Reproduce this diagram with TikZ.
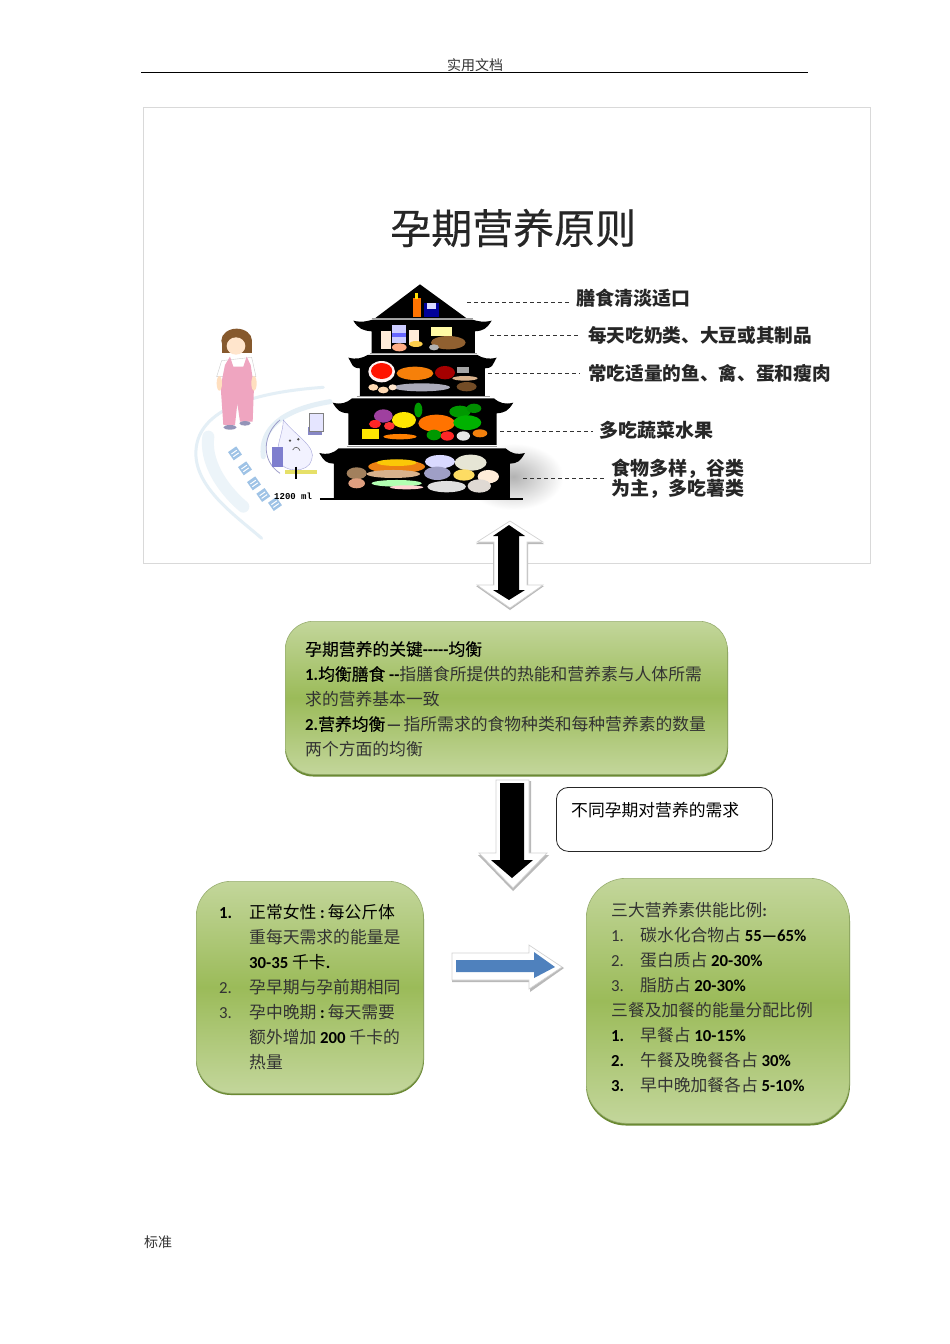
\documentclass[tikz,border=0pt]{standalone}
\usepackage{fontspec}
\setmainfont{Noto Sans CJK SC}
\newfontfamily\calfont{Carlito}
\newfontfamily\monofnt{Liberation Mono}
\newfontfamily\semi[FakeBold=0.35]{Noto Sans CJK SC}
\usetikzlibrary{shapes.geometric}
\definecolor{gLight}{HTML}{C3D69B}
\definecolor{gMid}{HTML}{9BBB59}
\definecolor{gEdge}{HTML}{6B8A33}
\definecolor{txtGrey}{HTML}{333333}
\definecolor{frameGrey}{HTML}{D9D9D9}
\definecolor{arrBlue}{HTML}{4F81BD}
\definecolor{paleSwoosh}{HTML}{E4EFF6}
\definecolor{overall}{HTML}{EFA5C0}
\definecolor{glyphBlue}{HTML}{9FC3E6}
\newcommand\lat[1]{{\calfont\bfseries #1}}
\newcommand\sz[1]{\fontsize{#1}{#1}\selectfont}
\newcommand\szl[2]{\fontsize{#1}{#2}\selectfont}
\newcommand\blob[5]{\fill[#1] (#2,#3) ellipse ({#4} and {#5});}
% tips x, x; body x, x; tip y; body bottom; flat top y
\newcommand\storey[7]{%
  \fill[black] (#1,#5) .. controls (#1+25,#5+6) and (#1+40,#5+2) .. (#1+58,#7) -- (#2-58,#7)
    .. controls (#2-40,#5+2) and (#2-25,#5+6) .. (#2,#5)
    .. controls (#2-15,#5+25) and (#4+25,#5+30) .. (#4,#5+32) -- (#4,#6) -- (#3,#6) -- (#3,#5+32)
    .. controls (#3-25,#5+30) and (#1+15,#5+25) .. (#1,#5) -- cycle;}
\tikzset{
  gbox/.style={anchor=north west,inner sep=0pt,rounded corners=#1,draw=gEdge!70,line width=.6pt,
    top color=gLight,bottom color=gLight,middle color=gMid},
  gshadow/.style={fill=gEdge,rounded corners=#1},
  boxtext/.style={anchor=north west,inner sep=0pt,align=left,text=txtGrey,
    font=\szl{16.8}{25}},
  lbl/.style={anchor=west,inner sep=0pt,font=\sz{19}\bfseries,text=black!85},
  leader/.style={black!80,line width=.7pt,dash pattern=on 4pt off 3pt},
  arrowback/.style={fill=white,draw=gray!35,line width=.7pt},
  arrowedge/.style={fill=gray!55},
}
\begin{document}
\begin{tikzpicture}[x=1pt,y=-1pt]
\path[use as bounding box,fill=white] (0,0) rectangle (950,1344);

% page furniture
\draw[black,line width=.8pt] (141,72.5) -- (808,72.5);
\node[inner sep=0pt,text=txtGrey,font=\sz{14}] (hdr) at (475,65) {实用文档};
\node[inner sep=0pt,anchor=west,text=txtGrey,font=\sz{14}] (ftr) at (144,1242) {标准};

% picture frame
\draw[frameGrey,line width=.8pt] (143,107) rectangle (870.5,563);
\node[inner sep=0pt,anchor=west,text=black!85,font=\sz{41}\semi] (title) at (390,228) {孕期营养原则};

% illustration, in the coordinates of a 3x crop
\begin{scope}[shift={(180,270)},scale=0.3333]
  % soft shadow at the right of the pyramid
  \shade[inner color=gray!60,outer color=white] (1000,620) ellipse (150 and 100);
  % swoosh
  \draw[paleSwoosh,line width=3pt,line cap=round] (430,352) .. controls (170,370) and (40,440) .. (48,560) .. controls (55,660) and (170,740) .. (245,805);
  \draw[paleSwoosh,line width=5pt,line cap=round] (450,395) .. controls (300,420) and (240,480) .. (250,560);
  \draw[paleSwoosh!70,line width=12pt,line cap=round] (85,500) .. controls (75,570) and (120,650) .. (190,710);
  % woman
  \blob{brown!70!black}{170}{212}{46}{36}
  \fill[brown!70!black] (125,212) rectangle (215,250);
  \blob{orange!20}{168}{228}{28}{26}
  \fill[white,draw=gray!40] (125,272) -- (215,262) -- (228,320) -- (110,320) -- cycle;
  \fill[overall] (135,285) -- (150,260) -- (160,290) -- (190,290) -- (200,260) -- (212,285) -- (222,350) -- (218,455) -- (180,455) -- (172,400) -- (165,465) -- (130,465) -- (122,350) -- cycle;
  \blob{orange!25}{118}{340}{8}{22}
  \blob{orange!25}{222}{340}{8}{22}
  \blob{blue!20!gray!70}{150}{472}{20}{7}
  \blob{blue!20!gray!70}{195}{460}{17}{7}
  % water drop
  \draw[blue!30!gray!60,line width=.8pt] (300,450) .. controls (250,490) and (240,570) .. (300,610);
  \fill[blue!5,draw=blue!40!gray!50] (310,450) .. controls (350,500) and (410,530) .. (395,570) .. controls (385,610) and (310,610) .. (295,570) .. controls (285,530) and (310,490) .. (310,450) -- cycle;
  \fill[blue!45!gray!70] (275,530) rectangle (310,590);
  \fill[blue!35!gray!70] (385,470) rectangle (425,495);
  \fill[blue!10,draw=gray] (388,430) rectangle (430,485);
  \blob{black!70}{330}{512}{4}{4}
  \blob{black!70}{355}{508}{4}{4}
  \draw[black!60,line width=.7pt] (338,540) .. controls (345,528) and (355,530) .. (360,542);
  \fill[yellow!60!olive!55] (315,600) rectangle (410,612);
  \draw[black,line width=1.2pt] (348,590) -- (348,628);
  % blue characters along the swoosh
  \foreach \px/\py in {165/550,195/595,222/640,250/675,285/702}{
    \fill[glyphBlue,rotate around={35:(\px,\py)}] (\px-15,\py-15) rectangle (\px+15,\py+15);
    \fill[white,rotate around={35:(\px,\py)}] (\px-10,\py-6) rectangle (\px+10,\py-3);
    \fill[white,rotate around={35:(\px,\py)}] (\px-10,\py+4) rectangle (\px+10,\py+7);
  }
  % pyramid
  \fill[black] (720,43) -- (860,145) -- (585,145) -- cycle;
  \storey{520}{935}{575}{885}{152}{250}{149}
  \storey{505}{950}{540}{915}{263}{378}{255}
  \storey{458}{1000}{505}{950}{398}{525}{385}
  \storey{418}{1035}{462}{990}{549}{685}{535}
  \draw[gray!75,line width=1pt] (575,147) -- (880,147);
  \draw[gray!75,line width=1pt] (570,252) -- (890,252);
  \draw[gray!75,line width=1pt] (530,381) -- (930,381);
  \draw[gray!75,line width=1pt] (500,530) -- (950,530);
  \draw[black,line width=2pt] (420,688) -- (1030,688);
  % top
  \fill[orange!90!red] (698,85) rectangle (722,140);
  \fill[yellow!80!orange] (705,68) rectangle (715,88);
  \fill[blue!60!black] (732,98) rectangle (776,140);
  \fill[white!85!blue] (740,100) rectangle (768,118);
  % dairy
  \fill[white!85!orange] (602,183) rectangle (634,238);
  \fill[white!80!blue] (637,165) rectangle (678,220);
  \fill[blue!60] (637,188) rectangle (678,202);
  \blob{pink!70!orange}{658}{232}{22}{12}
  \fill[white!85!orange] (688,180) rectangle (716,225);
  \blob{yellow!50!orange!70}{708}{222}{20}{9}
  \fill[yellow!35!white] (752,170) rectangle (815,198);
  \blob{brown!75!black}{805}{218}{52}{20}
  \blob{gray!60}{762}{232}{15}{9}
  % meat, fish, eggs
  \blob{white!80!pink}{605}{305}{40}{32}
  \blob{red!85!orange}{605}{303}{32}{24}
  \blob{orange!85!brown}{705}{310}{55}{20}
  \blob{red!65!black}{795}{308}{30}{20}
  \fill[gray!70] (832,290) rectangle (868,308);
  \blob{blue!10!gray!60}{725}{352}{85}{12}
  \blob{orange!30!white}{580}{352}{15}{10}
  \blob{orange!30!white}{610}{360}{16}{10}
  \blob{orange!20!white}{638}{352}{12}{9}
  \blob{brown!60}{855}{325}{38}{7}
  \blob{brown!60!black}{860}{350}{30}{14}
  % fruit and vegetables
  \blob{violet!75}{610}{438}{28}{20}
  \blob{yellow!90!orange}{672}{450}{36}{24}
  \blob{red!85}{585}{462}{18}{12}
  \blob{red!80}{628}{468}{16}{12}
  \fill[yellow!90!orange] (545,478) rectangle (598,507);
  \blob{orange}{660}{500}{50}{8}
  \blob{orange!90!red}{770}{460}{55}{26}
  \blob{green!60!black}{840}{425}{32}{18}
  \blob{green!55!black}{882}{415}{22}{14}
  \blob{green!70!black}{862}{458}{42}{22}
  \blob{green!60!black}{762}{495}{22}{16}
  \blob{red!85}{802}{498}{20}{14}
  \blob{white!80!gray}{850}{498}{20}{14}
  \blob{orange!80!brown}{900}{490}{22}{12}
  \blob{green!60!black}{715}{420}{12}{22}
  % grains and staples
  \blob{brown!55!gray}{530}{610}{30}{18}
  \blob{pink!50!brown}{530}{640}{25}{15}
  \blob{orange!70!brown}{650}{590}{85}{20}
  \blob{yellow!60!orange}{650}{578}{60}{10}
  \blob{brown!60}{640}{612}{80}{12}
  \blob{green!30!white}{650}{640}{75}{10}
  \blob{pink!70!white}{680}{652}{50}{6}
  \blob{white!85!blue}{780}{575}{45}{20}
  \blob{blue!25!gray!60}{772}{610}{40}{20}
  \blob{white!75!gray}{800}{650}{58}{17}
  \blob{yellow!25!gray!30}{872}{578}{48}{24}
  \blob{yellow!60!orange!60}{852}{615}{32}{17}
  \blob{orange!15!white}{925}{620}{32}{20}
  \blob{orange!15!gray!30}{898}{648}{35}{20}
\end{scope}
\node[inner sep=0pt,anchor=west,font=\sz{9}\monofnt\bfseries] (ml) at (274,496) {1200 ml};

% pyramid labels and leaders
\node[lbl] (l1) at (576,298) {膳食清淡适口};
\node[lbl,font=\sz{18.65}\bfseries] (l2) at (588,335) {每天吃奶类、大豆或其制品};
\node[lbl,font=\sz{18.65}\bfseries] (l3) at (588,373) {常吃适量的鱼、禽、蛋和瘦肉};
\node[lbl] (l4) at (599,430) {多吃蔬菜水果};
\node[lbl,align=left,font=\szl{19}{18}\bfseries] (l5) at (611,479) {食物多样，谷类\\为主，多吃薯类};
\coordinate (c1) at (467,302);
\coordinate (c2) at (490,335);
\coordinate (c3) at (488,373);
\coordinate (c4) at (500,431);
\coordinate (c5) at (523,478);
\draw[leader] (c1) -- ([xshift=-6pt]c1 -| l1.west);
\draw[leader] (c2) -- ([xshift=-8pt]c2 -| l2.west);
\draw[leader] (c3) -- ([xshift=-8pt]c3 -| l3.west);
\draw[leader] (c4) -- ([xshift=-6pt]c4 -| l4.west);
\draw[leader] (c5) -- ([xshift=-6pt]c5 -| l5.west);

% double block arrow
\fill[arrowedge] (510,523) -- (544,544) -- (528,544) -- (528,586) -- (544,586) -- (510,610) -- (476,586) -- (493,586) -- (493,544) -- (476,544) -- cycle;
\filldraw[arrowback] (510,521) -- (543,542) -- (527,542) -- (527,585) -- (543,585) -- (510,608) -- (477,585) -- (494,585) -- (494,542) -- (477,542) -- cycle;
\fill[black] (509,525) -- (525,536) -- (519,536) -- (519,590) -- (525,590) -- (509,600) -- (493,590) -- (498,590) -- (498,536) -- (493,536) -- cycle;

% main box
\fill[gshadow=28pt] (285,624) rectangle (728,776.5);
\node[gbox=28pt,minimum width=442pt,minimum height=153pt] (main) at (285,621) {};
\node[boxtext] (maintxt) at (305,641) {%
  {\color{black}\semi 孕期营养的关键\lat{-----}均衡}\\
  {\color{black}\lat{1.}\semi 均衡膳食 \lat{--}}指膳食所提供的热能和营养素与人体所需\\
  求的营养基本一致\\
  {\color{black}\lat{2.}\semi 营养均衡}\hspace{1pt}{\calfont\bfseries —}\hspace{2pt}指所需求的食物种类和每种营养素的数量\\
  两个方面的均衡};

% down arrow
\fill[arrowedge] (497,781) -- (531,781) -- (531,855) -- (549,855) -- (513,891) -- (478,855) -- (497,855) -- cycle;
\filldraw[arrowback] (496,780) -- (529,780) -- (529,853) -- (547,853) -- (513,888) -- (479,853) -- (496,853) -- cycle;
\fill[black] (500,783) -- (524,783) -- (524,860) -- (533,860) -- (512,878) -- (491,860) -- (500,860) -- cycle;

% callout
\node[anchor=north west,inner sep=0pt,draw=black!85,line width=.8pt,fill=white,rounded corners=12pt,minimum width=216pt,minimum height=64pt] (need) at (556,787) {};
\node[anchor=west,inner sep=0pt,text=black,font=\sz{16.8}] (needtxt) at (571,810) {不同孕期对营养的需求};

% left box
\fill[gshadow=35pt] (196,884) rectangle (424,1095);
\node[gbox=35pt,minimum width=227pt,minimum height=212pt] (left) at (196,881) {};
\node[boxtext] (lefttxt) at (219,904) {%
  \makebox[30pt][l]{\color{black}\lat{1.}}{\color{black}正常女性 \lat{:}\hspace{3pt}每公斤体}\\
  \hspace*{30pt}重每天需求的能量是\\
  \hspace*{30pt}{\color{black}\lat{30-35} 千卡\lat{.}}\\
  \makebox[30pt][l]{{\calfont 2.}}孕早期与孕前期相同\\
  \makebox[30pt][l]{{\calfont 3.}}孕中晚期 {\color{black}\lat{:}}\hspace{3pt}每天需要\\
  \hspace*{30pt}额外增加 {\color{black}\lat{200}} 千卡的\\
  \hspace*{30pt}热量};

% blue arrow
\fill[arrowedge] (452,955) -- (530,955) -- (530,947) -- (564,968) -- (530,992) -- (530,982) -- (452,982) -- cycle;
\filldraw[arrowback] (452,953) -- (529,953) -- (529,945) -- (562,967) -- (529,989) -- (529,980) -- (452,980) -- cycle;
\fill[arrBlue] (456,960) -- (534,960) -- (534,952) -- (555,967) -- (534,978) -- (534,972) -- (456,972) -- cycle;

% right box
\fill[gshadow=40pt] (586,881) rectangle (850,1125.5);
\node[gbox=40pt,minimum width=263pt,minimum height=245pt] (right) at (586,878) {};
\node[boxtext] (righttxt) at (611,902) {%
  三大营养素供能比例\lat{:}\\
  \makebox[29pt][l]{{\calfont 1.}}碳水化合物占 {\color{black}\lat{55—65\%}}\\
  \makebox[29pt][l]{{\calfont 2.}}蛋白质占 {\color{black}\lat{20-30\%}}\\
  \makebox[29pt][l]{{\calfont 3.}}脂肪占 {\color{black}\lat{20-30\%}}\\
  三餐及加餐的能量分配比例\\
  \makebox[29pt][l]{\color{black}\lat{1.}}早餐占 {\color{black}\lat{10-15\%}}\\
  \makebox[29pt][l]{\color{black}\lat{2.}}午餐及晚餐各占 {\color{black}\lat{30\%}}\\
  \makebox[29pt][l]{\color{black}\lat{3.}}早中晚加餐各占 {\color{black}\lat{5-10\%}}};
\end{tikzpicture}
\end{document}
